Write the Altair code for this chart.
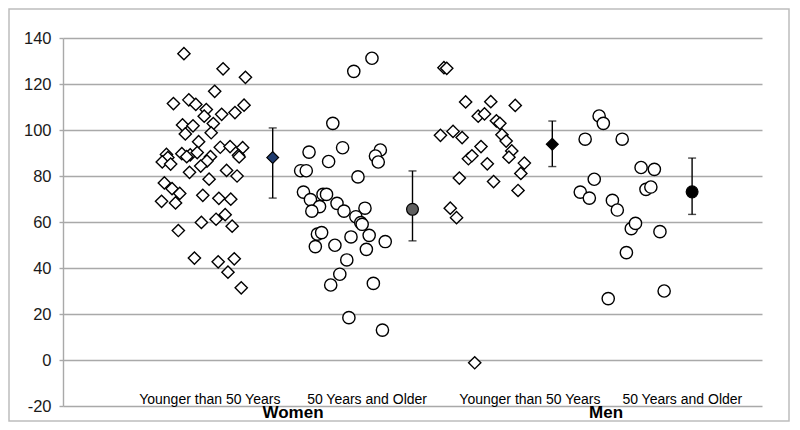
import altair as alt
import pandas as pd

# ---- data (x = jitter position on a 0-10 scale) ----
wy_x = [1.73, 2.29, 2.61, 2.17, 1.58, 1.80, 1.90, 2.05, 2.02, 2.27, 2.46, 2.59, 1.71, 1.86,
        2.15, 1.75, 2.12, 1.94, 2.25, 2.39, 2.57, 1.48, 1.70, 1.82, 1.92, 1.50, 1.77, 2.11,
        2.06, 2.51, 2.52, 1.42, 1.54, 1.97, 2.34, 1.81, 2.49, 2.09, 1.45, 1.56, 1.67, 2.00,
        2.23, 2.40, 1.41, 1.61, 2.32, 2.19, 1.98, 1.65, 2.42, 1.88, 2.22, 2.45, 2.36, 2.55]
wy_y = [133.2, 126.6, 122.9, 116.8, 111.5, 113.1, 111.1, 108.9, 106.0, 106.8, 107.6, 110.8, 102.2, 101.8,
        102.8, 98.3, 98.8, 94.9, 92.5, 92.8, 92.3, 89.4, 89.7, 89.2, 90.2, 88.0, 88.4, 88.4,
        86.5, 89.0, 88.3, 86.1, 85.2, 84.3, 82.4, 81.6, 80.0, 78.6, 77.0, 74.5, 72.4, 71.6,
        70.3, 69.9, 69.0, 68.3, 63.2, 61.2, 59.8, 56.3, 58.2, 44.3, 42.7, 44.0, 38.2, 31.4]

wo_x = [4.42, 4.16, 3.86, 3.52, 4.00, 4.54, 4.47, 4.51, 3.80, 3.40, 3.48, 4.22, 3.44, 3.72,
        3.77, 3.54, 3.92, 3.67, 3.56, 4.32, 4.02, 4.19, 4.26, 4.28, 3.64, 3.70, 3.61, 3.89,
        4.12, 4.38, 4.34, 4.61, 4.06, 3.96, 3.83, 4.44, 4.09, 4.57]
wo_y = [131.2, 125.5, 102.9, 90.4, 92.3, 91.3, 88.7, 86.1, 86.3, 82.3, 82.3, 79.6, 73.0, 72.0,
        72.0, 69.7, 68.1, 66.7, 64.7, 66.0, 64.7, 62.3, 59.7, 59.0, 54.7, 55.4, 49.3, 49.9,
        53.5, 54.2, 48.1, 51.5, 43.5, 37.3, 32.6, 33.3, 18.4, 13.0]

my_x = [5.45, 5.49, 5.76, 6.12, 6.47, 5.94, 6.03, 6.20, 6.25, 5.40, 5.58, 5.71, 6.28, 6.34,
        5.98, 6.42, 5.80, 5.85, 6.38, 6.07, 6.60, 6.55, 5.67, 6.16, 6.51, 5.54, 5.63, 5.89]
my_y = [127.1, 126.8, 112.2, 112.3, 110.7, 106.0, 107.0, 104.0, 102.9, 97.7, 99.4, 96.7, 97.9, 95.2,
        92.8, 90.9, 87.5, 88.8, 88.2, 85.3, 85.6, 81.1, 79.1, 77.6, 73.7, 66.0, 61.9, -1.2]

mo_x = [7.67, 7.73, 7.47, 8.00, 7.60, 8.27, 8.46, 7.40, 7.53, 7.86, 7.93, 8.34, 8.41, 8.13,
        8.19, 8.54, 8.06, 7.80, 8.60]
mo_y = [106.1, 102.9, 96.0, 96.0, 78.6, 83.7, 82.9, 73.0, 70.4, 69.4, 65.2, 74.2, 75.2, 57.1,
        59.4, 55.8, 46.7, 26.7, 30.0]

group_x = [3, 5, 7, 9]
group_mean = [88.0, 65.5, 93.8, 73.1]
group_hi = [100.9, 82.2, 103.9, 87.8]
group_lo = [70.4, 51.8, 84.1, 63.3]
group_shape = ["diamond", "circle", "diamond", "circle"]
group_fill = ["#1F3B6F", "#606060", "#000000", "#000000"]

sub_labels = ["Younger than 50 Years", "50 Years and Older", "Younger than 50 Years", "50 Years and Older"]
sub_label_x = [2.10, 4.35, 6.68, 8.86]
sex_labels = ["Women", "Men"]
sex_label_x = [3.29, 7.77]
y_ticks = [-20, 0, 20, 40, 60, 80, 100, 120, 140]

# ---- tables ----
diam = pd.DataFrame({"x": wy_x + my_x, "y": wy_y + my_y})
circ = pd.DataFrame({"x": wo_x + mo_x, "y": wo_y + mo_y})
means = pd.DataFrame({"x": group_x, "y": group_mean, "hi": group_hi, "lo": group_lo,
                      "shape": group_shape, "fill": group_fill})
subs = pd.DataFrame({"x": sub_label_x, "label": sub_labels})
sexes = pd.DataFrame({"x": sex_label_x, "label": sex_labels})

W, H = 699, 368
FONT = "Liberation Sans"
GRID = "#A9A9A9"

xs = alt.Scale(domain=[0, 10], nice=False, zero=False)
ys = alt.Scale(domain=[-20, 140], nice=False, zero=False)
yaxis = alt.Axis(values=y_ticks, grid=True, gridColor=GRID, gridWidth=1.4,
                 domainColor=GRID, domainWidth=1.4, tickColor=GRID, tickSize=4, tickWidth=1.4,
                 labelFont=FONT, labelFontSize=16.5, labelColor="#1a1a1a", labelPadding=8,
                 labelExpr="'' + datum.value", title=None)


def X(f="x"):
    return alt.X(f"{f}:Q", scale=xs, axis=None)


def Y(f):
    return alt.Y(f"{f}:Q", scale=ys, axis=yaxis)


frame = alt.Chart(pd.DataFrame({"a": [0]})).mark_rect(
    fill="transparent", stroke="#BDBDBD", strokeWidth=1.5
).encode(x=alt.value(-54), x2=alt.value(W + 27), y=alt.value(-29), y2=alt.value(H + 15))

pts_d = alt.Chart(diam).mark_point(
    shape="diamond", filled=True, fill="white", stroke="black", strokeWidth=1.4,
    size=150, opacity=1
).encode(x=X(), y=Y("y"))

pts_c = alt.Chart(circ).mark_point(
    shape="circle", filled=True, fill="white", stroke="black", strokeWidth=1.4,
    size=150, opacity=1
).encode(x=X(), y=Y("y"))

bars = alt.Chart(means).mark_rule(color="black", strokeWidth=1.4).encode(
    x=X(), y=Y("lo"), y2="hi")
cap_hi = alt.Chart(means).mark_tick(orient="horizontal", size=8, thickness=1.4, color="black").encode(
    x=X(), y=Y("hi"))
cap_lo = alt.Chart(means).mark_tick(orient="horizontal", size=8, thickness=1.4, color="black").encode(
    x=X(), y=Y("lo"))

mean_pts = alt.Chart(means).mark_point(
    filled=True, stroke="black", strokeWidth=1.2, size=140, opacity=1
).encode(x=X(), y=Y("y"),
         shape=alt.Shape("shape:N", scale=None),
         fill=alt.Fill("fill:N", scale=None))

sub_text = alt.Chart(subs).mark_text(
    font=FONT, fontSize=14, color="black", baseline="alphabetic", align="center"
).encode(x=X(), y=alt.value(H - 2), text="label:N")

sex_text = alt.Chart(sexes).mark_text(
    font=FONT, fontSize=17, fontWeight="bold", color="black", baseline="alphabetic", align="center"
).encode(x=X(), y=alt.value(H + 12), text="label:N")

chart = alt.layer(
    frame, pts_d, pts_c, bars, cap_hi, cap_lo, mean_pts, sub_text, sex_text
).properties(
    width=W, height=H,
    autosize=alt.AutoSizeParams(type="none"),
    padding={"left": 55, "top": 30, "right": 28, "bottom": 16},
    background="white",
).configure_view(strokeWidth=0)

chart.save("out.html", embed_options={"renderer": "svg", "actions": False})
